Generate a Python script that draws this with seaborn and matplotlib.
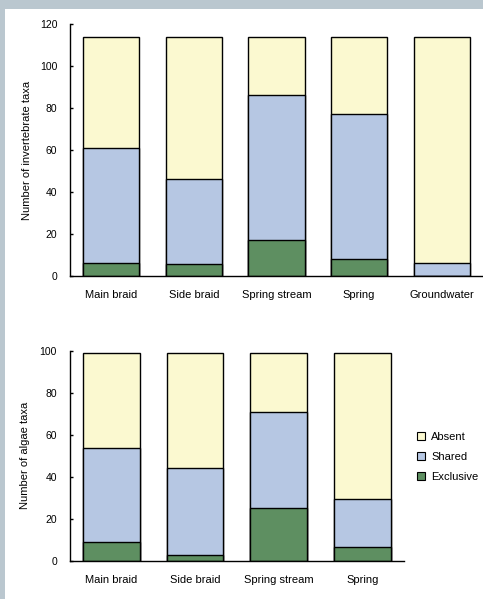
import matplotlib
matplotlib.use("Agg")
import matplotlib.pyplot as plt
from matplotlib.patches import Rectangle, Patch
import seaborn as sns
import pandas as pd
import numpy as np

# ---- data ----
invert_sites = ["Main braid", "Side braid", "Spring stream", "Spring", "Groundwater"]
invert_exclusive = [6, 5.5, 17, 8, 0]
invert_shared = [55, 40.5, 69, 69, 6]
invert_absent = [53, 68, 28, 37, 108]

algae_sites = ["Main braid", "Side braid", "Spring stream", "Spring"]
algae_exclusive = [9, 3, 25, 6.5]
algae_shared = [44.5, 41, 46, 23]
algae_absent = [45.5, 55, 28, 69.5]

invert_yticks = [0, 20, 40, 60, 80, 100, 120]
algae_yticks = [0, 20, 40, 60, 80, 100]

legend_labels = ["Absent", "Shared", "Exclusive"]

# ---- style ----
sns.set_style("white")
plt.rcParams["font.family"] = ["Liberation Sans", "DejaVu Sans"]
plt.rcParams["text.color"] = "black"
plt.rcParams["axes.labelcolor"] = "black"
plt.rcParams["xtick.color"] = "black"
plt.rcParams["ytick.color"] = "black"

C_ABSENT = "#fbf9d0"
C_SHARED = "#b6c7e3"
C_EXCL = "#5e8f61"
BORDER = "#bac7cf"

W, H = 483, 599
fig = plt.figure(figsize=(W / 100, H / 100), dpi=100, facecolor=BORDER)
bg = Rectangle((5 / W, 0), 1, (H - 9) / H, transform=fig.transFigure,
               facecolor="white", edgecolor="none", zorder=-10)
fig.add_artist(bg)


def stacked(ax, sites, excl, shared, absent, ylim, yticks, ylabel, labx):
    df = pd.DataFrame({"site": sites, "excl": excl, "shared": shared, "absent": absent})
    df["t_shared"] = df["excl"] + df["shared"]
    df["t_abs"] = df["t_shared"] + df["absent"]
    for col, c in [("t_abs", C_ABSENT), ("t_shared", C_SHARED), ("excl", C_EXCL)]:
        sns.barplot(data=df, x="site", y=col, color=c, saturation=1, width=0.68,
                    edgecolor="black", linewidth=1.0, ax=ax, errorbar=None)
    ax.set_facecolor("none")
    ax.set_xlim(-0.5, len(sites) - 0.5)
    ax.set_ylim(*ylim)
    ax.set_yticks(yticks)
    ax.set_xlabel("")
    ax.set_ylabel(ylabel, fontsize=8)
    ax.yaxis.set_label_coords(labx, 0.5)
    for s in ["top", "right"]:
        ax.spines[s].set_visible(False)
    for s in ["left", "bottom"]:
        ax.spines[s].set_color("black")
        ax.spines[s].set_linewidth(1.0)
    ax.tick_params(axis="y", direction="in", length=2.5, width=1, labelsize=7.5, pad=9, left=True)
    ax.tick_params(axis="x", length=0, labelsize=8, pad=10)


ax1 = fig.add_axes([70 / W, (H - 276) / H, 413 / W, 252 / H])
stacked(ax1, invert_sites, invert_exclusive, invert_shared, invert_absent,
        (0, 120), invert_yticks, "Number of invertebrate taxa", -0.092)

ax2 = fig.add_axes([69.5 / W, (H - 561) / H, 334.5 / W, 210.3 / H])
stacked(ax2, algae_sites, algae_exclusive, algae_shared, algae_absent,
        (0, 100), algae_yticks, "Number of algae taxa", -0.118)

handles = [Patch(facecolor=c, edgecolor="black", linewidth=0.8)
           for c in [C_ABSENT, C_SHARED, C_EXCL]]
fig.legend(handles, legend_labels, loc="upper left", bbox_to_anchor=(417 / W, 1 - 432 / H),
           bbox_transform=fig.transFigure, frameon=False, fontsize=8, borderpad=0,
           handlelength=0.7, handleheight=0.7, handletextpad=0.6, labelspacing=0.9,
           borderaxespad=0)

fig.savefig("out.png", dpi=100, facecolor=fig.get_facecolor())
